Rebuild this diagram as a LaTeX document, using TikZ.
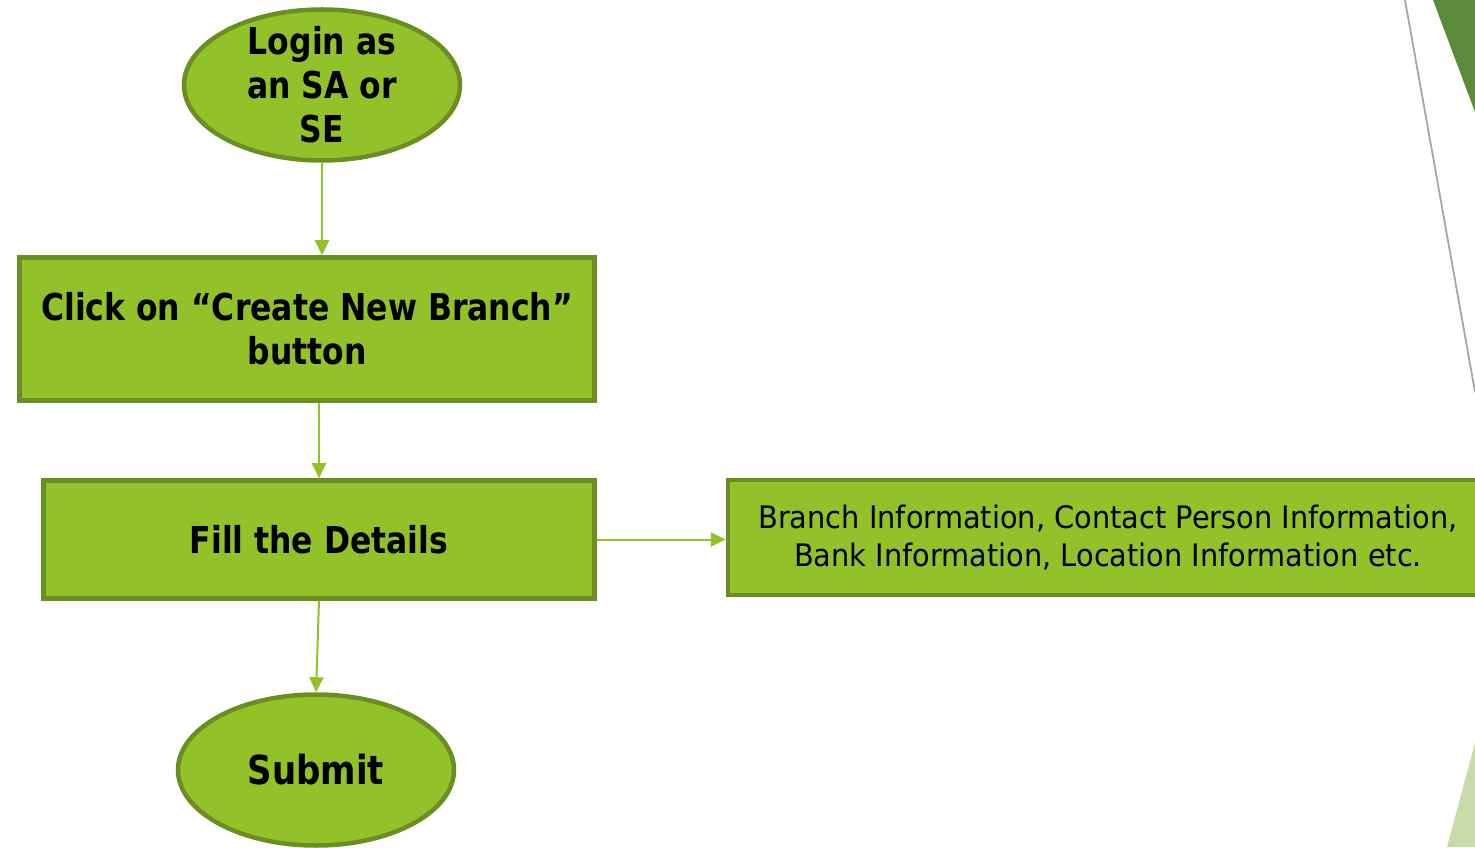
\documentclass[tikz,border=0pt]{standalone}
\usepackage{fontspec}
\setmainfont{DejaVu Sans}[UprightFeatures={FakeStretch=0.93},BoldFeatures={FakeStretch=0.85}]
\usetikzlibrary{shapes.geometric,arrows.meta}
\definecolor{leaf}{HTML}{92C12A}
\definecolor{leafedge}{HTML}{6B8E23}
\definecolor{leafdark}{HTML}{5B8B3A}
\definecolor{leafpale}{HTML}{C9DBA8}
\begin{document}
\begin{tikzpicture}[x=1pt,y=1pt,
    oval/.style={ellipse,draw=leafedge,fill=leaf,line width=4.5pt,
      minimum width=276pt,minimum height=151pt,inner sep=0pt},
    stepbox/.style={rectangle,draw=leafedge,fill=leaf,line width=4.5pt,inner sep=0pt},
    bigtext/.style={font=\bfseries\fontsize{37}{44}\selectfont,align=center,inner sep=0pt},
    flow/.style={draw=leaf,line width=2pt,-{Triangle[length=15pt,width=14pt]}}]
      \useasboundingbox (0,0) rectangle (1475,847);

      % slide decorations at the right edge
      \fill[leafdark] (1433,847) -- (1475,847) -- (1475,735) -- cycle;
      \fill[leafpale] (1475,104) -- (1475,0) -- (1447,0) -- cycle;
      \draw[gray!70,line width=1.8pt] (1405,847) -- (1475,455);

      % steps
      \node[oval] (login) at (322,762) {};
      \node[bigtext] (login-text) at (login) {Login as\\an SA or\\SE};

      \node[stepbox,minimum width=575pt,minimum height=143pt] (click) at (307,518) {};
      \node[bigtext] (click-text) at (click) {Click on “Create New Branch”\\button};

      \node[stepbox,minimum width=551pt,minimum height=118pt] (fill) at (319,307.5) {};
      \node[bigtext] (fill-text) at (fill) {Fill the Details};

      \node[stepbox,minimum width=760pt,minimum height=115pt] (info) at (1108,309.5) {};
      \node[align=center,inner sep=0pt,font=\fontsize{31}{38}\selectfont] (info-text) at (info)
            {Branch Information, Contact Person Information,\\Bank Information, Location Information etc.};

      \node[oval] (submit) at (316,77) {};
      \node[bigtext,font=\bfseries\fontsize{40}{44}\selectfont] (submit-text) at (submit) {Submit};

      % connectors
      \draw[flow] (login.south) -- (login.south |- click.north);
      \draw[flow] (click.south -| fill.north) -- (fill.north);
      \draw[flow] (fill.east) -- (fill.east -| info.west);
      \draw[flow] (fill.south) -- (submit.north);
\end{tikzpicture}
\end{document}
